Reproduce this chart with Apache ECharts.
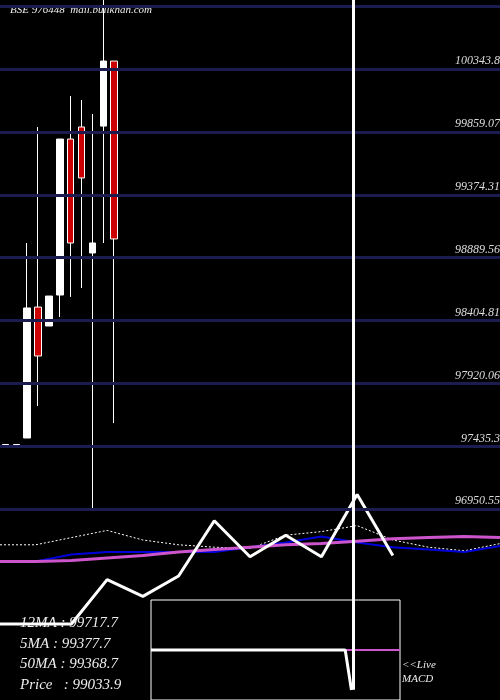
<!DOCTYPE html>
<html><head><meta charset="utf-8">
<script src="https://cdn.jsdelivr.net/npm/echarts@6/dist/echarts.min.js"></script>
<style>html,body{margin:0;background:#000}#c{width:500px;height:700px}</style>
</head><body><div id="c"></div>
<script>
// price candles: [open, close, low, high]
var candles = [
  [97440, 97450, 97440, 97450],
  [97440, 97450, 97440, 97450],
  [97500, 98502, 97500, 99003],
  [98509, 98132, 97746, 99897],
  [98363, 98594, 98363, 98594],
  [98602, 99804, 98432, 99804],
  [99804, 99003, 98587, 100136],
  [99897, 99504, 98656, 100105],
  [98926, 99003, 96945, 99997],
  [99904, 100405, 99003, 100876],
  [100405, 99034, 97615, 100405]
];
var priceLevels = [100828.5, 100343.8, 99859.07, 99374.31, 98889.56, 98404.81, 97920.06, 97435.3, 96950.55];
var priceLabels = ['', '100343.8', '99859.07', '99374.31', '98889.56', '98404.81', '97920.06', '97435.3', '96950.55'];

// oscillator panel (x in 0..14, values 0..100)
var oscX = [0, 1, 2, 3, 4, 5, 6, 7, 8, 9, 10, 11, 12, 13, 14];
var oscLine = [-20, -20, -20, 17, 3, 20, 66, 36, 54, 36, 88, 37, null, null, null];
var oscDotted = [46, 46, 52, 58, 50, 46, 44, 43, 54, 57, 62, 50, 44, 41, 47];
var oscBlue = [null, 32, 38, 40, 40, 40, 40, 44, 48, 53, 48, 44, 42, 40, 45];
var oscPink = [32, 32, 33, 35, 37, 40, 42, 44, 46, 47, 49, 51, 52, 53, 52];

// MACD panel
var macdX = [0, 78, 80.5];
var macdWhite = [0, 0, -0.8];
var macdPinkX = [78, 100];
var macdPink = [0, 0];

var legendLines = ['12MA : 99717.7', '5MA : 99377.7', '50MA : 99368.7', 'Price   : 99033.9'];

var font = 'Liberation Serif';
var chart = echarts.init(document.getElementById('c'));
var cats = [];
for (var i = 0; i < 46; i++) cats.push(i);

var levelLines = priceLevels.map(function (v, i) {
  return { yAxis: v, label: { formatter: priceLabels[i] } };
});

chart.setOption({
  backgroundColor: '#000',
  animation: false,
  grid: [
    { left: -4, width: 506, top: 0, height: 700 },
    { left: 0, width: 500, top: 480, height: 120 },
    { left: 151, width: 249, top: 600, height: 100, show: true, borderColor: '#fff', borderWidth: 1 }
  ],
  xAxis: [
    { gridIndex: 0, type: 'category', data: cats, show: false },
    { gridIndex: 1, type: 'value', min: 0, max: 14, show: false },
    { gridIndex: 2, type: 'value', min: 0, max: 100, show: false }
  ],
  yAxis: [
    { gridIndex: 0, type: 'value', min: 95480.7, max: 100875.6, show: false },
    { gridIndex: 1, type: 'value', min: 0, max: 100, show: false },
    { gridIndex: 2, type: 'value', min: -1, max: 1, show: false }
  ],
  graphic: [
    { type: 'text', left: 10, top: 5, style: { text: 'BSE 976448  mail.bullkhan.com', fill: '#eee', font: 'italic 11px ' + font } },
    { type: 'text', left: 20, top: 613, style: { text: legendLines.join('\n'), fill: '#eee', font: 'italic 15px ' + font, lineHeight: 20.5 } },
    { type: 'text', left: 402, top: 658, style: { text: '<<Live\nMACD', fill: '#eee', font: 'italic 11px ' + font, lineHeight: 14 } }
  ],
  series: [
    {
      type: 'candlestick', xAxisIndex: 0, yAxisIndex: 0, barWidth: 7,
      data: candles,
      itemStyle: { color: '#fff', color0: '#cc0000', borderColor: '#fff', borderColor0: '#fff', borderWidth: 1 },
      markLine: {
        silent: true, symbol: 'none',
        lineStyle: { color: '#1c1c50', width: 3, type: 'solid' },
        label: { position: 'insideEndTop', color: '#ddd', fontStyle: 'italic', fontFamily: font, fontSize: 12, distance: [0, 2] },
        data: levelLines.concat([
          [{ coord: [32, 100875], lineStyle: { color: '#fff', width: 3 }, label: { show: false } },
           { coord: [32, 95560] }]
        ])
      }
    },
    { type: 'line', xAxisIndex: 1, yAxisIndex: 1, data: oscX.map(function (x, i) { return [x, oscDotted[i]]; }),
      showSymbol: false, lineStyle: { color: '#fff', width: 1, type: [2, 2] } },
    { type: 'line', xAxisIndex: 1, yAxisIndex: 1, data: oscX.map(function (x, i) { return [x, oscBlue[i]]; }),
      showSymbol: false, lineStyle: { color: '#0000dd', width: 2 } },
    { type: 'line', xAxisIndex: 1, yAxisIndex: 1, data: oscX.map(function (x, i) { return [x, oscPink[i]]; }),
      showSymbol: false, lineStyle: { color: '#cc55cc', width: 3 } },
    { type: 'line', xAxisIndex: 1, yAxisIndex: 1, data: oscX.map(function (x, i) { return [x, oscLine[i]]; }),
      showSymbol: false, connectNulls: false, clip: false, lineStyle: { color: '#fff', width: 3 } },
    { type: 'line', xAxisIndex: 2, yAxisIndex: 2, data: macdPinkX.map(function (x, i) { return [x, macdPink[i]]; }),
      showSymbol: false, lineStyle: { color: '#cc55cc', width: 2 } },
    { type: 'line', xAxisIndex: 2, yAxisIndex: 2, data: macdX.map(function (x, i) { return [x, macdWhite[i]]; }),
      showSymbol: false, lineStyle: { color: '#fff', width: 3 } }
  ]
});
</script></body></html>
